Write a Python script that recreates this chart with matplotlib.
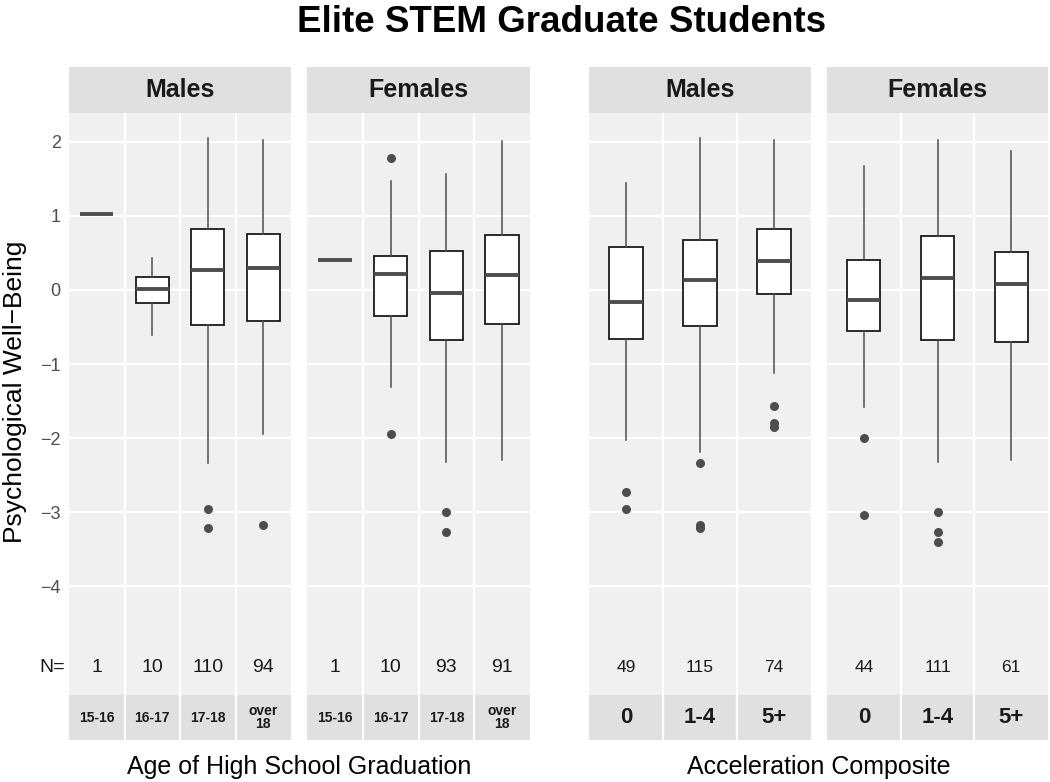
import numpy as np
import matplotlib
matplotlib.use('Agg')
import matplotlib.pyplot as plt

plt.rcParams['font.family'] = ['Liberation Sans', 'DejaVu Sans']

# categories
age_groups = ['15-16', '16-17', '17-18', 'over\n18']
accel_groups = ['0', '1-4', '5+']
sexes = ['Males', 'Females']

# box stats (Psychological Well-Being)
m_age_med = [1.02, 0.01, 0.27, 0.29]
m_age_q1 = [1.02, -0.18, -0.47, -0.42]
m_age_q3 = [1.02, 0.17, 0.82, 0.75]
m_age_lo = [1.02, -0.61, -2.34, -1.95]
m_age_hi = [1.02, 0.43, 2.05, 2.02]
m_age_out = [[], [], [-2.96, -3.22], [-3.17]]
m_age_n = [1, 10, 110, 94]

f_age_med = [0.40, 0.21, -0.04, 0.20]
f_age_q1 = [0.40, -0.35, -0.67, -0.46]
f_age_q3 = [0.40, 0.46, 0.52, 0.74]
f_age_lo = [0.40, -1.31, -2.33, -2.29]
f_age_hi = [0.40, 1.47, 1.56, 2.01]
f_age_out = [[], [1.78, -1.94], [-3.00, -3.27], []]
f_age_n = [1, 10, 93, 91]

m_acc_med = [-0.16, 0.14, 0.39]
m_acc_q1 = [-0.66, -0.49, -0.05]
m_acc_q3 = [0.58, 0.68, 0.83]
m_acc_lo = [-2.02, -2.19, -1.12]
m_acc_hi = [1.45, 2.05, 2.03]
m_acc_out = [[-2.73, -2.96], [-2.34, -3.17, -3.22], [-1.57, -1.80, -1.85]]
m_acc_n = [49, 115, 74]

f_acc_med = [-0.13, 0.16, 0.08]
f_acc_q1 = [-0.55, -0.68, -0.70]
f_acc_q3 = [0.40, 0.73, 0.51]
f_acc_lo = [-1.58, -2.33, -2.30]
f_acc_hi = [1.67, 2.02, 1.88]
f_acc_out = [[-2.00, -3.04], [-3.00, -3.27, -3.41], []]
f_acc_n = [44, 111, 61]

y_ticks = [2, 1, 0, -1, -2, -3, -4]


def make_stats(lo, q1, med, q3, hi, out):
    stats = []
    for i in range(len(med)):
        stats.append(dict(whislo=lo[i], q1=q1[i], med=med[i], q3=q3[i],
                          whishi=hi[i], fliers=out[i]))
    return stats


panels = [
    (sexes[0], age_groups, make_stats(m_age_lo, m_age_q1, m_age_med, m_age_q3, m_age_hi, m_age_out), m_age_n),
    (sexes[1], age_groups, make_stats(f_age_lo, f_age_q1, f_age_med, f_age_q3, f_age_hi, f_age_out), f_age_n),
    (sexes[0], accel_groups, make_stats(m_acc_lo, m_acc_q1, m_acc_med, m_acc_q3, m_acc_hi, m_acc_out), m_acc_n),
    (sexes[1], accel_groups, make_stats(f_acc_lo, f_acc_q1, f_acc_med, f_acc_q3, f_acc_hi, f_acc_out), f_acc_n),
]

W, H = 1050, 782
fig = plt.figure(figsize=(W / 100, H / 100), dpi=100)


def rect(l, t, r, b):
    return [l / W, 1 - b / H, (r - l) / W, (b - t) / H]


xspans = [(69, 291), (307, 530), (589, 811), (827, 1048)]
PANEL_BG = '#F0F0F0'
STRIP_BG = '#E0E0E0'
GRID = 'white'
YLIM = (-5.47, 2.39)
N_Y = -5.1

for k, (sex, groups, stats, ns) in enumerate(panels):
    l, r = xspans[k]
    ng = len(groups)
    pos = np.arange(1, ng + 1)
    is_age = k < 2
    width = 0.6 if is_age else 0.45

    ax = fig.add_axes(rect(l, 113, r, 695))
    ax.set_facecolor(PANEL_BG)
    for yv in y_ticks:
        ax.axhline(yv, color=GRID, lw=1.6, zorder=0.5)
    for xv in pos[:-1] + 0.5:
        ax.axvline(xv, color=GRID, lw=1.6, zorder=0.5)

    ax.bxp(stats, positions=pos, widths=width, patch_artist=True, showcaps=False,
           boxprops=dict(facecolor='white', edgecolor='#1a1a1a', linewidth=1.3),
           medianprops=dict(color='#4d4d4d', linewidth=2.8, solid_capstyle='butt'),
           whiskerprops=dict(color='#4d4d4d', linewidth=1.1),
           flierprops=dict(marker='o', markerfacecolor='#4d4d4d', markeredgecolor='none',
                           markersize=6.5))
    ax.set_xlim(0.5, ng + 0.5)
    ax.set_ylim(*YLIM)

    for p, n in zip(pos, ns):
        ax.text(p, N_Y, str(n), ha='center', va='center',
                fontsize=14 if is_age else 12.5, color='#1a1a1a')

    ax.set_xticks([])
    if k == 0:
        ax.set_yticks(y_ticks)
        ax.set_yticklabels([str(v).replace('-', '\u2212') for v in y_ticks])
        ax.tick_params(axis='y', length=0, pad=6, labelsize=13, labelcolor='#4d4d4d')
        ax.text(-0.02, N_Y, 'N=', transform=ax.get_yaxis_transform(),
                ha='right', va='center', fontsize=14, color='#1a1a1a')
    else:
        ax.set_yticks([])
    for s in ax.spines.values():
        s.set_visible(False)

    # top strip
    st = fig.add_axes(rect(l, 67, r, 113))
    st.set_facecolor(STRIP_BG)
    st.set_xticks([])
    st.set_yticks([])
    for s in st.spines.values():
        s.set_visible(False)
    st.text(0.5, 0.5, sex, transform=st.transAxes, ha='center', va='center',
            fontsize=18, fontweight='bold', color='#1a1a1a')

    # bottom strip with category names
    sb = fig.add_axes(rect(l, 695, r, 740))
    sb.set_facecolor(STRIP_BG)
    sb.set_xlim(0.5, ng + 0.5)
    sb.set_ylim(0, 1)
    for xv in pos[:-1] + 0.5:
        sb.axvline(xv, color=GRID, lw=1.6)
    for p, g in zip(pos, groups):
        sb.text(p, 0.5, g, ha='center', va='center', fontweight='bold',
                fontsize=10 if is_age else 16, linespacing=0.85, color='#1a1a1a')
    sb.set_xticks([])
    sb.set_yticks([])
    for s in sb.spines.values():
        s.set_visible(False)

fig.text(15 / W, 1 - 392 / H, 'Psychological Well\u2212Being', rotation=90,
         ha='center', va='center', fontsize=19)
fig.text((69 + 530) / 2 / W, 1 - 767 / H, 'Age of High School Graduation',
         ha='center', va='center', fontsize=18)
fig.text((589 + 1048) / 2 / W, 1 - 767 / H, 'Acceleration Composite',
         ha='center', va='center', fontsize=18)
fig.text(562 / W, 1 - 22 / H, 'Elite STEM Graduate Students', ha='center', va='center',
         fontsize=26.5, fontweight='bold')

fig.savefig('out.png', dpi=100)
